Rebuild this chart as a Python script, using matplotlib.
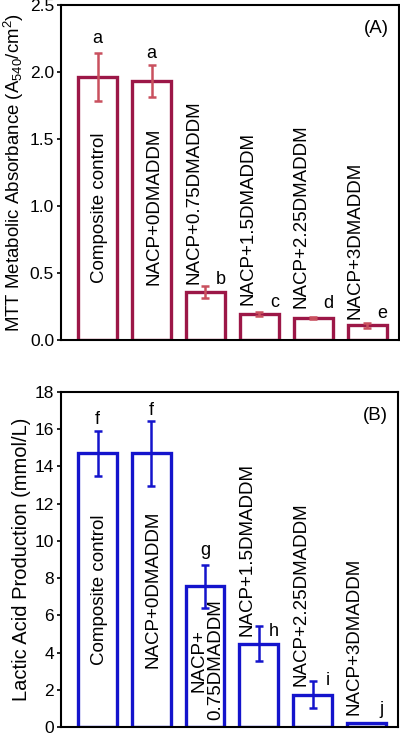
import matplotlib.pyplot as plt
import numpy as np

plt.rcParams['font.family'] = ['Liberation Sans', 'DejaVu Sans']
plt.rcParams['mathtext.fontset'] = 'custom'
plt.rcParams['mathtext.rm'] = 'Liberation Sans'
plt.rcParams['mathtext.default'] = 'regular'

# Panel A: MTT metabolic absorbance
mtt_labels = ["Composite control", "NACP+0DMADDM", "NACP+0.75DMADDM",
              "NACP+1.5DMADDM", "NACP+2.25DMADDM", "NACP+3DMADDM"]
mtt_vals = [1.96, 1.93, 0.36, 0.195, 0.165, 0.11]
mtt_err = [0.18, 0.12, 0.045, 0.015, 0.006, 0.017]
mtt_letters = ["a", "a", "b", "c", "d", "e"]

# Panel B: lactic acid production
lac_labels = ["Composite control", "NACP+0DMADDM", "NACP+\n0.75DMADDM",
              "NACP+1.5DMADDM", "NACP+2.25DMADDM", "NACP+3DMADDM"]
lac_vals = [14.7, 14.7, 7.55, 4.48, 1.74, 0.2]
lac_err = [1.2, 1.75, 1.15, 0.95, 0.72, 0.0]
lac_letters = ["f", "f", "g", "h", "i", "j"]

fig = plt.figure(figsize=(4.0, 7.35), dpi=100)
axA = fig.add_axes([61/400, 1 - 340/735, 338/400, 335/735])
axB = fig.add_axes([61/400, 1 - 727/735, 337/400, 335/735])

x = np.arange(6)
LAB = 13.5

def panel(ax, vals, err, ecol, errcol, ymax, yticks, fmt):
    ax.bar(x, vals, width=0.72, facecolor='white', edgecolor=ecol, linewidth=2.4)
    ax.errorbar(x, vals, yerr=err, fmt='none', ecolor=errcol, elinewidth=1.8,
                capsize=3, capthick=1.8)
    ax.set_xlim(-0.68, 5.59)
    ax.set_ylim(0, ymax)
    ax.set_xticks([])
    ax.set_yticks(yticks)
    ax.set_yticklabels([fmt.format(t) for t in yticks], fontsize=12.5)
    ax.tick_params(axis='y', direction='out', length=3, width=1.2, pad=2)
    for s in ax.spines.values():
        s.set_linewidth(1.5)

# ---- panel A
panel(axA, mtt_vals, mtt_err, '#9c1747', '#c9505e', 2.5,
      [0, 0.5, 1.0, 1.5, 2.0, 2.5], "{:.1f}")
axA.set_ylabel("MTT Metabolic Absorbance (A$_{540}$/cm$^2$)", fontsize=13.4, labelpad=3)
axA.text(0.97, 0.955, "(A)", transform=axA.transAxes, ha='right', va='top', fontsize=13.5)

a_let_y = [2.25, 2.14, 0.45, 0.28, 0.27, 0.2]
a_let_dx = [0, 0, 0.28, 0.28, 0.28, 0.28]
for i in range(6):
    axA.text(x[i] + a_let_dx[i], a_let_y[i], mtt_letters[i], ha='center',
             va='center', fontsize=13)

a_lab_y = [0.99, 1.0, 0.42, 0.26, 0.24, 0.16]
for i in range(6):
    if i < 2:
        axA.text(x[i] + 0.04, a_lab_y[i], mtt_labels[i], rotation=90,
                 ha='center', va='center', fontsize=LAB)
    else:
        axA.text(x[i] - 0.22, a_lab_y[i], mtt_labels[i], rotation=90,
                 ha='center', va='bottom', fontsize=LAB)

# ---- panel B
panel(axB, lac_vals, lac_err, '#1414cc', '#1414cc', 18,
      list(range(0, 19, 2)), "{:d}")
axB.set_ylabel("Lactic Acid Production (mmol/L)", fontsize=14.5, labelpad=3)
axB.text(0.97, 0.955, "(B)", transform=axB.transAxes, ha='right', va='top', fontsize=13.5)

b_let_y = [16.5, 17.0, 9.5, 5.15, 2.5, 0.95]
b_let_dx = [0, 0, 0, 0.28, 0.28, 0.28]
for i in range(6):
    axB.text(x[i] + b_let_dx[i], b_let_y[i], lac_letters[i], ha='center',
             va='center', fontsize=13)

b_lab_y = [7.4, 7.4, 0.35, 4.9, 2.2, 0.66]
for i in range(6):
    if i < 2:
        axB.text(x[i] + 0.04, b_lab_y[i], lac_labels[i], rotation=90,
                 ha='center', va='center', fontsize=LAB)
    elif i == 2:
        axB.text(x[i] + 0.04, b_lab_y[i], lac_labels[i], rotation=90,
                 ha='center', va='bottom', fontsize=LAB, multialignment='center',
                 linespacing=1.0)
    else:
        axB.text(x[i] - 0.22, b_lab_y[i], lac_labels[i], rotation=90,
                 ha='center', va='bottom', fontsize=LAB)

fig.savefig("out.png", dpi=100)
